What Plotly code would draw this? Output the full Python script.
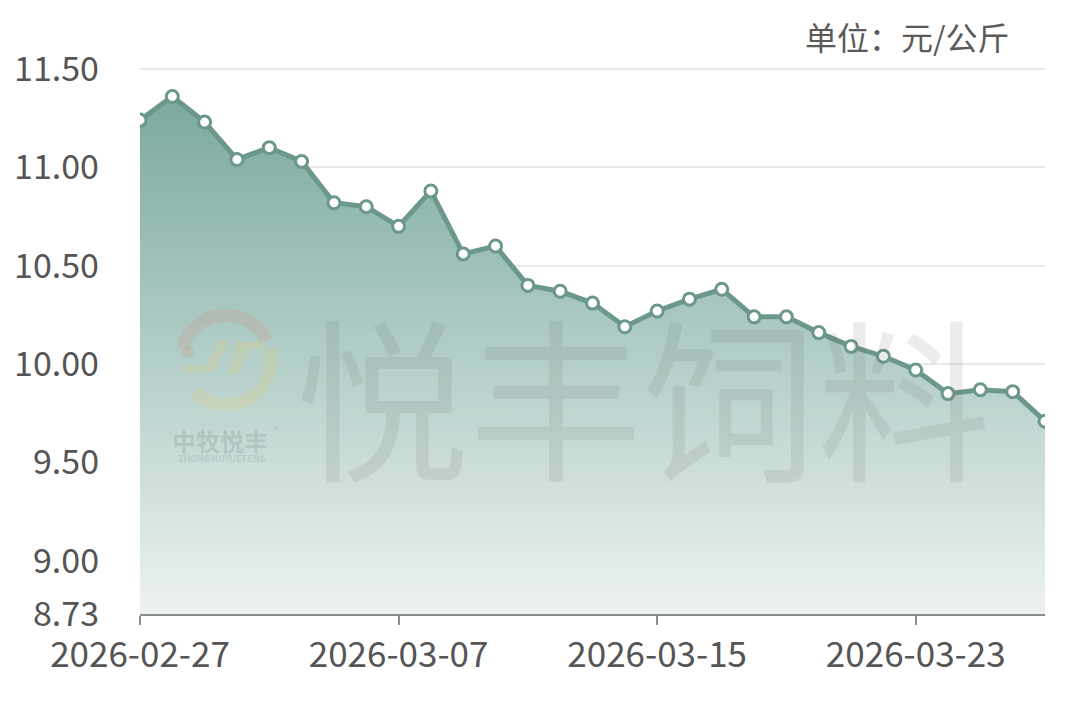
import math
import plotly.graph_objects as go
import pandas as pd

dates = pd.date_range("2026-02-27", "2026-03-27", freq="D").strftime("%Y-%m-%d").tolist()
prices = [11.24, 11.36, 11.23, 11.04, 11.10, 11.03, 10.82, 10.80, 10.70, 10.88,
          10.56, 10.60, 10.40, 10.37, 10.31, 10.19, 10.27, 10.33, 10.38, 10.24,
          10.24, 10.16, 10.09, 10.04, 9.97, 9.85, 9.87, 9.86, 9.71]
x_ticks = ["2026-02-27", "2026-03-07", "2026-03-15", "2026-03-23"]
y_ticks = [8.73, 9.00, 9.50, 10.00, 10.50, 11.00, 11.50]
y_tick_text = ["8.73", "9.00", "9.50", "10.00", "10.50", "11.00", "11.50"]
unit_text = "单位：元/公斤"
watermark = "悦丰饲料"
logo_cn = "中牧悦丰"
logo_en = "ZHONGMUYUEFENG"

LINE = "#6b978c"
FONT = "Noto Sans CJK SC"

# page layout (the page body adds an 8px offset)
OFF = 8
PAGE_W, PAGE_H = 1080, 707
Y_MIN, Y_MAX = 8.73, 11.52
PL, PR, PB = 140, 1045, 614
PT = 65  # plot top in page pixels (11.50 gridline lands at ~69)
pw, ph = PR - PL, PB - PT

def px(xp):
    return (xp - PL) / pw

def py(yp):
    return (PB - yp) / ph

fig = go.Figure()
fig.add_trace(go.Scatter(
    x=dates, y=prices, mode="lines+markers",
    line=dict(color=LINE, width=5),
    marker=dict(size=12, color="white", line=dict(color=LINE, width=3)),
    fill="tozeroy",
    fillgradient=dict(type="vertical", start=8.73, stop=11.4,
                      colorscale=[[0, "#edf2f1"], [0.5, "#b1cdc7"], [1, "#7aa89e"]]),
    hoverinfo="x+y", showlegend=False,
))

def note(text, xp, yp, size, color, xanchor="center"):
    fig.add_annotation(text=text, x=px(xp), y=py(yp), xref="paper", yref="paper",
                       xanchor=xanchor, yanchor="middle", showarrow=False,
                       font=dict(family=FONT, size=size, color=color))

# watermark
note(watermark, 643, 392, 174, "rgba(110,110,110,0.13)")
note("<b>" + logo_cn + "</b>", 220, 440, 24, "rgba(110,110,110,0.2)")
note("®", 276, 430, 9, "rgba(110,110,110,0.2)")
note("<b>" + logo_en + "</b>", 222, 458, 9, "rgba(110,110,110,0.18)")

def arc(cx, cy, r, a0, a1, n=30):
    pts = []
    for i in range(n + 1):
        a = math.radians(a0 + (a1 - a0) * i / n)
        pts.append((px(cx + r * math.cos(a)), py(cy - r * math.sin(a))))
    return "M " + " L ".join(f"{x:.4f},{y:.4f}" for x, y in pts)

def poly(points):
    return "M " + " L ".join(f"{px(a):.4f},{py(b):.4f}" for a, b in points) + " Z"

fig.add_shape(type="path", path=arc(226, 360, 45, 165, 25), xref="paper", yref="paper",
              line=dict(color="rgba(215,140,120,0.2)", width=13))
fig.add_shape(type="path", path=arc(226, 360, 45, 15, -135), xref="paper", yref="paper",
              line=dict(color="rgba(232,205,120,0.24)", width=13))
fig.add_shape(type="circle", x0=px(182), x1=px(194), y0=py(346), y1=py(358), xref="paper", yref="paper",
              fillcolor="rgba(215,140,120,0.22)", line=dict(width=0))
fig.add_shape(type="path", path=poly([(180, 372), (214, 372), (230, 340), (220, 340), (206, 366), (184, 366)]),
              xref="paper", yref="paper", fillcolor="rgba(232,205,120,0.24)", line=dict(width=0))
fig.add_shape(type="path", path=poly([(228, 374), (238, 374), (250, 350), (262, 350), (266, 342), (236, 342)]),
              xref="paper", yref="paper", fillcolor="rgba(232,205,120,0.24)", line=dict(width=0))

note(unit_text, 1012, 36, 32, "#5a5a5a", xanchor="right")

fig.update_layout(
    width=PAGE_W - OFF, height=PAGE_H - OFF,
    margin=dict(l=PL - OFF, r=PAGE_W - PR, t=PT - OFF, b=PAGE_H - PB),
    paper_bgcolor="white", plot_bgcolor="white",
    font=dict(family=FONT, color="#555555"),
    xaxis=dict(range=["2026-02-27", "2026-03-27"], tickvals=x_ticks, ticktext=x_ticks,
               showgrid=False, zeroline=False, showline=True, linecolor="#8c8c8c", linewidth=2,
               ticks="outside", ticklen=9, tickwidth=2, tickcolor="#8c8c8c", automargin=False,
               tickfont=dict(family=FONT, size=35, color="#555555")),
    yaxis=dict(range=[Y_MIN, Y_MAX], tickvals=y_ticks, ticktext=y_tick_text,
               showgrid=True, gridcolor="#e9e9e9", gridwidth=2, zeroline=False, showline=False,
               ticks="", ticklabelstandoff=40, automargin=False,
               tickfont=dict(family=FONT, size=34, color="#555555")),
)

fig.write_html("out.html")
